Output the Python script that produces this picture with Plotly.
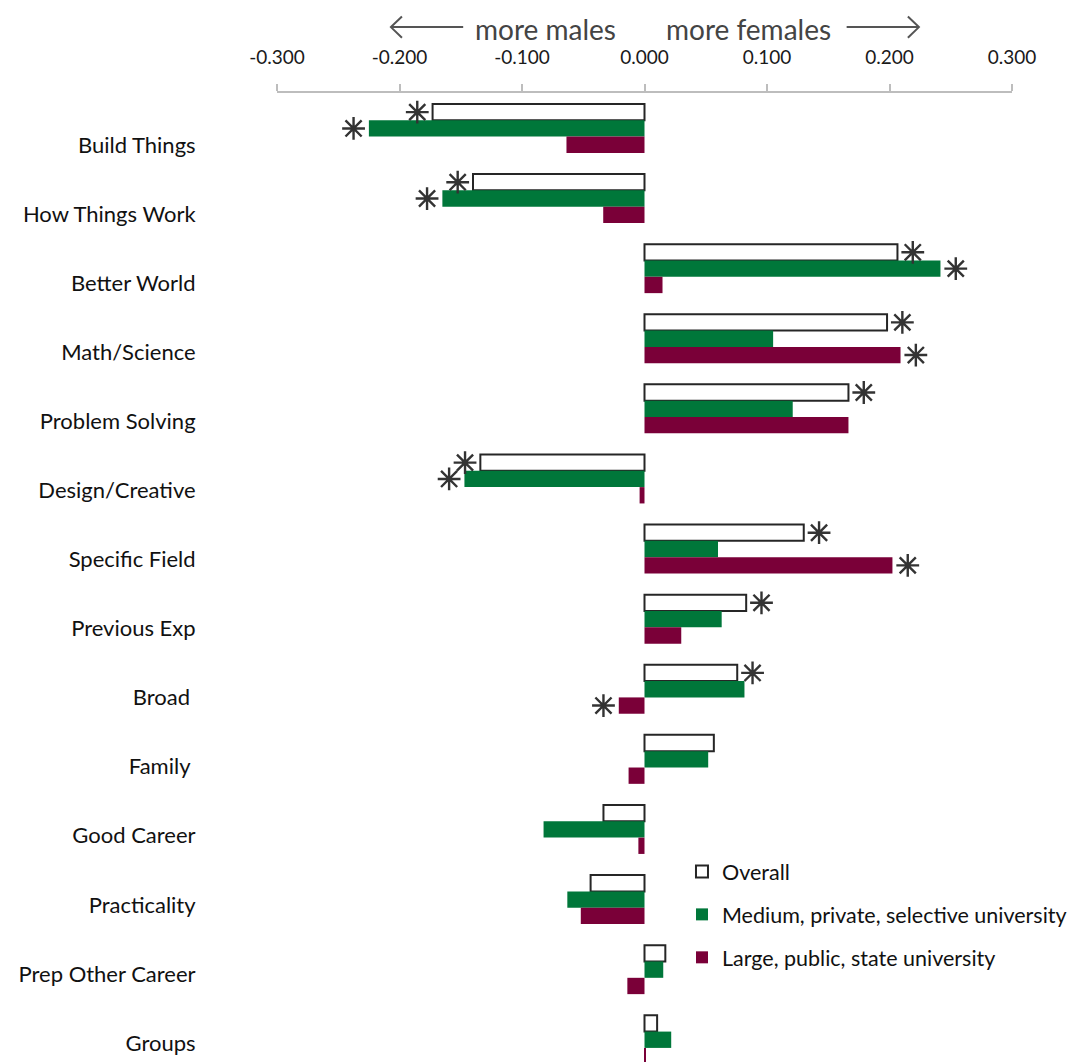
import plotly.graph_objects as go

categories = ["Build Things", "How Things Work", "Better World", "Math/Science",
              "Problem Solving", "Design/Creative", "Specific Field", "Previous Exp",
              "Broad\u00a0", "Family\u00a0", "Good Career", "Practicality",
              "Prep Other Career", "Groups"]

overall = [-0.173, -0.140, 0.2065, 0.198, 0.1665, -0.134, 0.130, 0.083,
           0.0757, 0.0566, -0.0335, -0.044, 0.017, 0.0103]
medium = [-0.225, -0.165, 0.2416, 0.105, 0.121, -0.147, 0.060, 0.063,
          0.0816, 0.052, -0.0824, -0.063, 0.0153, 0.0218]
large = [-0.0637, -0.0337, 0.0147, 0.209, 0.1665, -0.004, 0.2024, 0.030,
         -0.021, -0.013, -0.005, -0.052, -0.014, 0.001]

sig_overall = [1, 1, 1, 1, 1, 1, 1, 1, 1, 0, 0, 0, 0, 0]
sig_medium = [1, 1, 1, 0, 0, 1, 0, 0, 0, 0, 0, 0, 0, 0]
sig_large = [0, 0, 0, 1, 0, 0, 1, 0, 1, 0, 0, 0, 0, 0]

tick_vals = [-0.3, -0.2, -0.1, 0.0, 0.1, 0.2, 0.3]
tick_text = ["%.3f" % v for v in tick_vals]

series_names = ["Overall", "Medium, private, selective university",
                "Large, public, state university"]

GREEN = "#00773A"
MAROON = "#7A0038"
FONT = "Lato"

idx = list(range(len(categories)))
W = 0.233
offsets = [-0.35, -0.117, 0.116]

fig = go.Figure()

styles = [
    dict(color="white", line=dict(color="#262626", width=2)),
    dict(color=GREEN, line=dict(color=GREEN, width=0)),
    dict(color=MAROON, line=dict(color=MAROON, width=0)),
]
for k, (name, vals, off, st) in enumerate(zip(series_names, [overall, medium, large], offsets, styles)):
    fig.add_trace(go.Bar(
        name=name, x=vals, y=idx, orientation="h", offset=off, width=W,
        marker=st, showlegend=True, legendgroup="g%d" % k,
    ))

# significance asterisks
ax_x, ax_y = [], []
for vals, sig, off in zip([overall, medium, large], [sig_overall, sig_medium, sig_large], offsets):
    for i, (v, s) in enumerate(zip(vals, sig)):
        if s:
            ax_x.append(v + (0.0125 if v >= 0 else -0.0125))
            ax_y.append(i + off + W / 2)
fig.add_trace(go.Scatter(
    x=ax_x, y=ax_y, mode="markers", showlegend=False, hoverinfo="skip",
    marker=dict(symbol="asterisk-open", size=19, color="#333333",
                line=dict(color="#333333", width=2.4)),
))

# category labels on an overlaying axis
fig.add_trace(go.Scatter(
    x=[0] * len(idx), y=idx, yaxis="y2", mode="markers", showlegend=False,
    hoverinfo="skip", marker=dict(opacity=0),
))

fig.update_layout(
    width=1077, height=1062,
    margin=dict(l=277, r=65, t=93, b=0),
    paper_bgcolor="white", plot_bgcolor="white",
    barmode="overlay",
    font=dict(family=FONT, color="#1a1a1a"),
    xaxis=dict(
        side="top", range=[-0.3, 0.3], tickvals=tick_vals, ticktext=tick_text,
        showgrid=False, zeroline=False, showline=True, linecolor="#bdbdbd", linewidth=2,
        ticks="outside", ticklen=7, tickcolor="#bdbdbd", tickwidth=2,
        tickfont=dict(size=19, color="#1a1a1a", family=FONT), ticklabelstandoff=12,
    ),
    yaxis=dict(
        range=[13.317, -0.506], showticklabels=False, showgrid=False,
        zeroline=False, showline=False, ticks="",
    ),
    yaxis2=dict(
        overlaying="y", side="left", range=[13.275, -0.7528],
        tickvals=idx, ticktext=categories, showgrid=False, zeroline=False,
        showline=False, ticks="outside", ticklen=76, tickcolor="rgba(0,0,0,0)",
        tickfont=dict(size=22, color="#111111", family=FONT),
    ),
    legend=dict(
        x=0.551, y=0.2178, xanchor="left", yanchor="top",
        font=dict(size=21.5, color="#111111", family=FONT),
        bgcolor="rgba(0,0,0,0)", traceorder="grouped", itemwidth=30,
        tracegroupgap=12,
    ),
    shapes=[
        dict(type="path", xref="x", yref="paper",
             path="M -0.148,1.068 L -0.207,1.068 M -0.198,1.079 L -0.207,1.068 L -0.198,1.057",
             line=dict(color="#555555", width=2)),
        dict(type="path", xref="x", yref="paper",
             path="M 0.165,1.068 L 0.224,1.068 M 0.215,1.079 L 0.224,1.068 L 0.215,1.057",
             line=dict(color="#555555", width=2)),
    ],
    annotations=[
        dict(text="more males", x=-0.0805, y=1.066, xref="x", yref="paper",
             yanchor="middle", showarrow=False,
             font=dict(size=28, color="#444444", family=FONT)),
        dict(text="more females", x=0.0848, y=1.066, xref="x", yref="paper",
             yanchor="middle", showarrow=False,
             font=dict(size=28, color="#444444", family=FONT)),
    ],
)

fig.write_html("out.html")
